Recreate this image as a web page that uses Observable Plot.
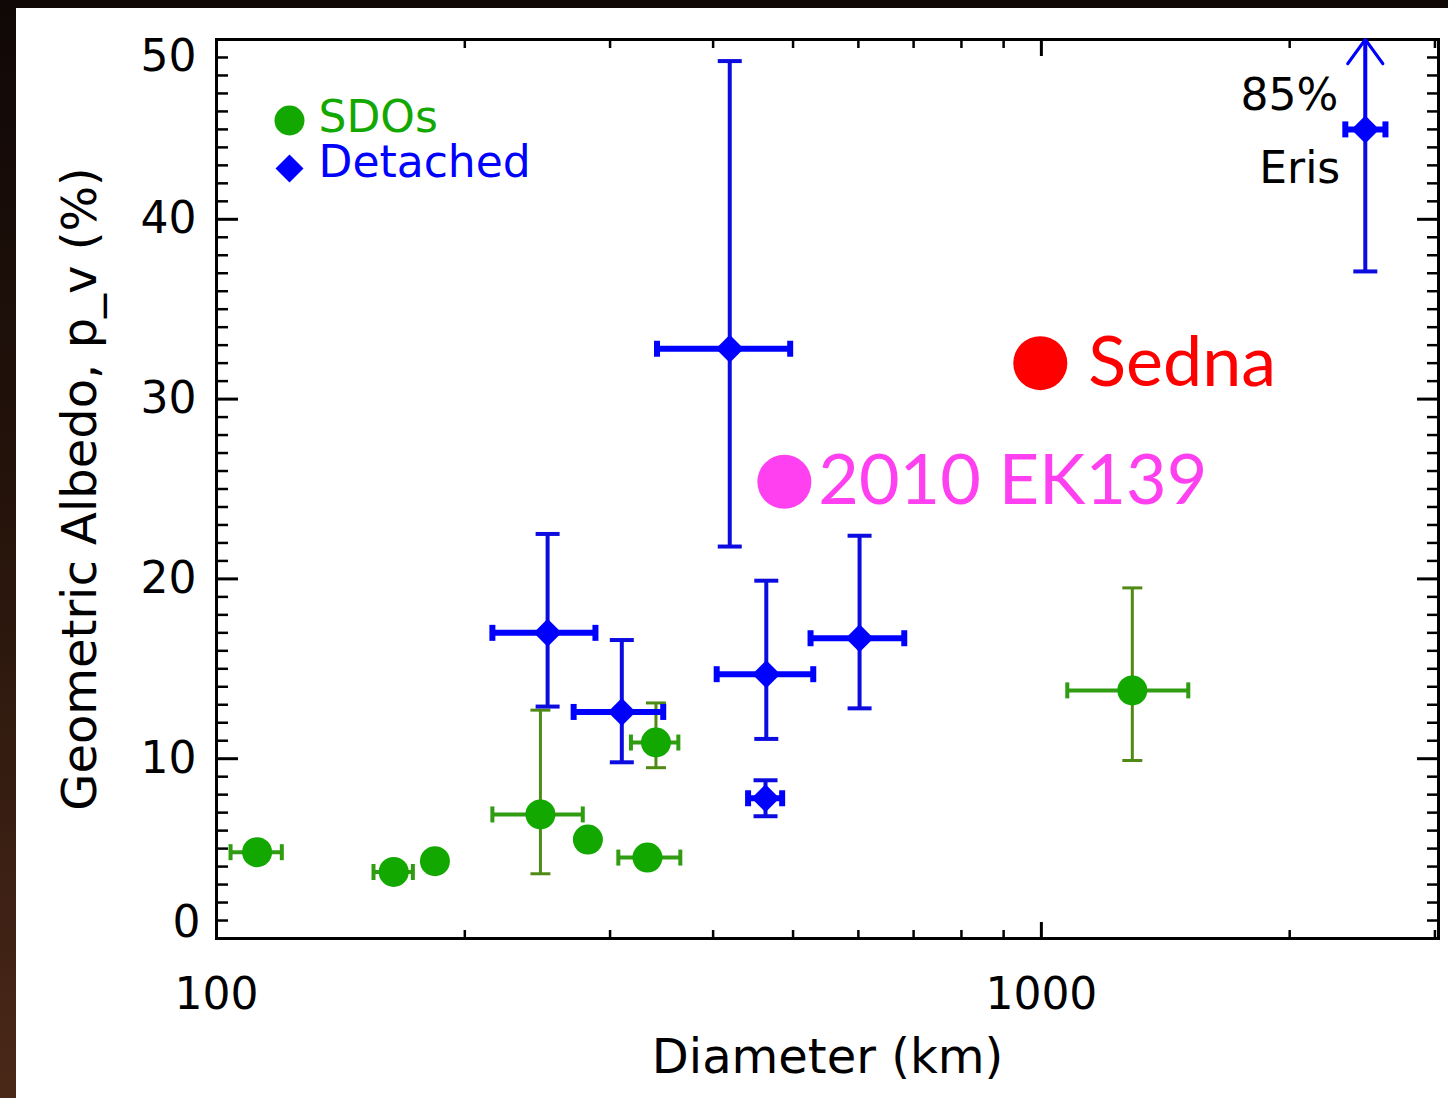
<!DOCTYPE html>
<html><head><meta charset="utf-8">
<script src="https://cdn.jsdelivr.net/npm/d3@7"></script>
<script src="https://cdn.jsdelivr.net/npm/@observablehq/plot@0.6"></script>
<style>
html,body{margin:0;padding:0;}
body{width:1448px;height:1098px;overflow:hidden;position:relative;
  background:linear-gradient(to bottom,#100806 0%,#24130b 45%,#4a2818 100%);}
#chart{position:absolute;left:16px;top:8px;width:1432px;height:1090px;background:#fff;}
#chart svg{display:block;}
</style></head><body><div id="chart"></div>
<script>
// ---- data ----
const sdoDiameter   = [112, 164, 184, 247, 282, 333, 341, 1289];
const sdoAlbedo     = [4.8, 3.7, 4.3, 6.9, 5.5, 4.5, 10.9, 13.8];
const sdoDiameterLo = [104, 155, null, 216, null, 307, 318, 1075];
const sdoDiameterHi = [120, 173, null, 278, null, 365, 363, 1507];
const sdoAlbedoLo   = [null, null, null, 3.6, null, null, 9.5, 9.9];
const sdoAlbedoHi   = [null, null, null, 12.7, null, null, 13.1, 19.5];

const detName       = ["", "", "", "", "", "", "Eris"];
const detDiameter   = [252, 310, 419, 464, 463, 602, 2470];
const detAlbedo     = [17.0, 12.6, 32.8, 14.7, 7.8, 16.7, 45.0];
const detDiameterLo = [216, 271, 342, 404, 441, 525, 2336];
const detDiameterHi = [288, 348, 496, 529, 485, 682, 2613];
const detAlbedoLo   = [12.9, 9.8, 21.8, 11.1, 6.8, 12.8, 37.1];
const detAlbedoHi   = [22.5, 16.6, 48.8, 19.9, 8.8, 22.4, 85];

const specialName     = ["Sedna", "2010 EK139"];
const specialDiameter = [997, 488];
const specialAlbedo   = [32.0, 25.4];

const erisUpperLabel = "85%";
const legendLabels = ["SDOs", "Detached"];
const yMajorTicks = [0, 10, 20, 30, 40, 50];
const yMinorTicks = d3.range(1, 50).filter(v => v % 10 !== 0);
const xMajorTicks = [100, 1000];
const xMinorTicks = [200, 300, 400, 500, 600, 700, 800, 900, 2000, 3000];
const xDomain = [100, 3030];
const yDomain = [0, 50];
const xTitle = "Diameter (km)";
const yTitle = "Geometric Albedo, p_v (%)";

// ---- tables ----
const sdo = sdoDiameter.map((d, i) => ({d, a: sdoAlbedo[i], dlo: sdoDiameterLo[i], dhi: sdoDiameterHi[i], alo: sdoAlbedoLo[i], ahi: sdoAlbedoHi[i]}));
const det = detDiameter.map((d, i) => ({name: detName[i], d, a: detAlbedo[i], dlo: detDiameterLo[i], dhi: detDiameterHi[i], alo: detAlbedoLo[i], ahi: detAlbedoHi[i]}));
const special = specialName.map((name, i) => ({name, d: specialDiameter[i], a: specialAlbedo[i]}));
const eris = det.filter(r => r.name === "Eris");

// ---- styles ----
const GREEN = "#12a800", GREEN_BAR = "#2f9c12", GREEN_VBAR = "#4f8a14";
const BLUE = "#0000ff", BLUE_VBAR = "#0c0ce0";
const FONT = "DejaVu Sans";
const LABEL_FONT = "Lato";

const capH = {draw(ctx, size) { const r = Math.sqrt(size / Math.PI); ctx.moveTo(-r, 0); ctx.lineTo(r, 0); }};
const capV = {draw(ctx, size) { const r = Math.sqrt(size / Math.PI); ctx.moveTo(0, -r); ctx.lineTo(0, r); }};
const diamond = {draw(ctx, size) { const r = Math.sqrt(size / Math.PI); ctx.moveTo(0, -r); ctx.lineTo(r, 0); ctx.lineTo(0, r); ctx.lineTo(-r, 0); ctx.closePath(); }};

function errorMarks(data, {hColor, vColor, hWidth, vWidth, hCap, vCap}) {
  const h = data.filter(r => r.dlo != null);
  const v = data.filter(r => r.alo != null);
  return [
    Plot.ruleX(v, {x: "d", y1: "alo", y2: "ahi", stroke: vColor, strokeWidth: vWidth, clip: true}),
    Plot.dot(v, {x: "d", y: "alo", symbol: capH, r: vCap, stroke: vColor, strokeWidth: vWidth, fill: "none", clip: true}),
    Plot.dot(v, {x: "d", y: "ahi", symbol: capH, r: vCap, stroke: vColor, strokeWidth: vWidth, fill: "none", clip: true}),
    Plot.ruleY(h, {y: "a", x1: "dlo", x2: "dhi", stroke: hColor, strokeWidth: hWidth}),
    Plot.dot(h, {x: "dlo", y: "a", symbol: capV, r: hCap, stroke: hColor, strokeWidth: hWidth, fill: "none"}),
    Plot.dot(h, {x: "dhi", y: "a", symbol: capV, r: hCap, stroke: hColor, strokeWidth: hWidth, fill: "none"})
  ];
}

const blank = () => "";
const chart = Plot.plot({
  width: 1432, height: 1090,
  marginLeft: 200, marginRight: 10, marginTop: 31, marginBottom: 160,
  style: {fontFamily: FONT, background: "white", color: "black", overflow: "visible"},
  x: {type: "log", domain: xDomain},
  y: {domain: yDomain},
  color: {domain: specialName, range: ["#ff0000", "#ff40f0"]},
  marks: [
    // ticks inside the frame on all four sides
    Plot.axisY(yMajorTicks, {anchor: "left", tickSize: -22, tickFormat: blank, strokeWidth: 3, label: null}),
    Plot.axisY(yMinorTicks, {anchor: "left", tickSize: -12, tickFormat: blank, strokeWidth: 2.5, label: null}),
    Plot.axisY(yMajorTicks, {anchor: "right", tickSize: -22, tickFormat: blank, strokeWidth: 3, label: null}),
    Plot.axisY(yMinorTicks, {anchor: "right", tickSize: -12, tickFormat: blank, strokeWidth: 2.5, label: null}),
    Plot.axisX(xMajorTicks, {anchor: "bottom", tickSize: -16, tickFormat: blank, strokeWidth: 3, label: null}),
    Plot.axisX(xMinorTicks, {anchor: "bottom", tickSize: -8, tickFormat: blank, strokeWidth: 2.5, label: null}),
    Plot.axisX(xMajorTicks, {anchor: "top", tickSize: -16, tickFormat: blank, strokeWidth: 3, label: null}),
    Plot.axisX(xMinorTicks, {anchor: "top", tickSize: -8, tickFormat: blank, strokeWidth: 2.5, label: null}),
    // tick labels
    Plot.axisY(yMajorTicks.slice(1, -1), {anchor: "left", tickSize: 0, tickPadding: 20, fontSize: 44, label: null}),
    Plot.axisY(yMajorTicks.slice(0, 1), {anchor: "left", tickSize: 0, tickPadding: 16, dy: -16, fontSize: 44, label: null}),
    Plot.axisY(yMajorTicks.slice(-1), {anchor: "left", tickSize: 0, tickPadding: 20, dy: 17, fontSize: 44, label: null}),
    Plot.axisX(xMajorTicks, {anchor: "bottom", tickSize: 0, tickPadding: 39, fontSize: 44, tickFormat: d => String(d), label: null}),
    // axis titles
    Plot.text([xTitle], {frameAnchor: "bottom", dy: 119, fontSize: 48, text: d => d, textAnchor: "middle", lineAnchor: "middle"}),
    Plot.text([yTitle], {frameAnchor: "left", rotate: -90, dx: -136, fontSize: 48, text: d => d, textAnchor: "middle", lineAnchor: "middle"}),
    Plot.frame({stroke: "black", strokeWidth: 3}),
    // SDO error bars + points
    ...errorMarks(sdo, {hColor: GREEN_BAR, vColor: GREEN_VBAR, hWidth: 4, vWidth: 3, hCap: 8, vCap: 10}),
    Plot.dot(sdo, {x: "d", y: "a", r: 15, fill: GREEN}),
    // Detached error bars + points
    ...errorMarks(det, {hColor: BLUE, vColor: BLUE_VBAR, hWidth: 6, vWidth: 4, hCap: 8, vCap: 12}),
    Plot.arrow(eris, {x: "d", y1: "a", y2: () => yDomain[1], bend: 0, stroke: BLUE, strokeWidth: 3, headLength: 24, headAngle: 72}),
    Plot.dot(det, {x: "d", y: "a", r: 14, symbol: diamond, fill: BLUE}),
    Plot.text(eris, {x: "d", y: "a", text: () => erisUpperLabel, dx: -27, dy: -33, textAnchor: "end", fontSize: 44, fill: "black"}),
    Plot.text(eris, {x: "d", y: "a", text: "name", dx: -25, dy: 40, textAnchor: "end", fontSize: 44, fill: "black"}),
    // Sedna and 2010 EK139
    Plot.dot(special, {x: "d", y: "a", r: 27, fill: "name"}),
    Plot.text(special.filter(r => r.name === "Sedna"), {x: "d", y: "a", text: "name", fill: "name", dx: 48, textAnchor: "start", fontSize: 70, fontFamily: LABEL_FONT}),
    Plot.text(special.filter(r => r.name !== "Sedna"), {x: "d", y: "a", text: "name", fill: "name", dx: 34, textAnchor: "start", fontSize: 70, fontFamily: LABEL_FONT}),
    // legend
    Plot.dot([legendLabels[0]], {frameAnchor: "top-left", dx: 73, dy: 81, r: 15, fill: GREEN}),
    Plot.text([legendLabels[0]], {frameAnchor: "top-left", dx: 102, dy: 78, text: d => d, textAnchor: "start", lineAnchor: "middle", fontSize: 44, fill: GREEN}),
    Plot.dot([legendLabels[1]], {frameAnchor: "top-left", dx: 73, dy: 129, r: 14, symbol: diamond, fill: BLUE}),
    Plot.text([legendLabels[1]], {frameAnchor: "top-left", dx: 102, dy: 123, text: d => d, textAnchor: "start", lineAnchor: "middle", fontSize: 44, fill: BLUE})
  ]
});
document.getElementById("chart").appendChild(chart);
</script></body></html>
